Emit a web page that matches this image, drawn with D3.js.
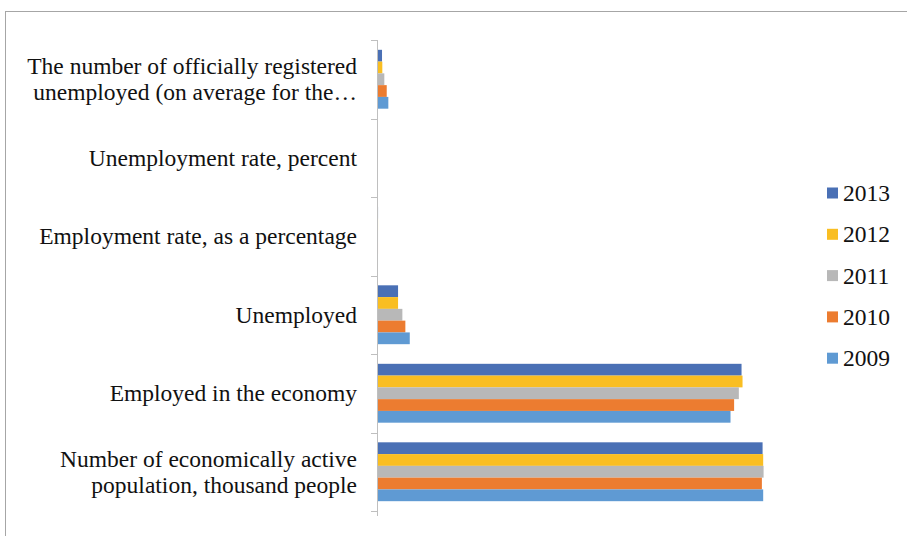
<!DOCTYPE html>
<html><head><meta charset="utf-8">
<script src="https://cdn.jsdelivr.net/npm/d3@7/dist/d3.min.js"></script>
<style>
html,body{margin:0;padding:0;background:#fff;}
svg{display:block;}
</style></head>
<body>
<svg id="chart" width="907" height="536"></svg>
<script>
// Categories in data order (first = bottom of chart)
const categories = [
  "Number of economically active population, thousand people",
  "Employed in the economy",
  "Unemployed",
  "Employment rate, as a percentage",
  "Unemployment rate, percent",
  "The number of officially registered unemployed (on average for the…"
];
const categoryLines = [
  ["Number of economically active", "population, thousand people"],
  ["Employed in the economy"],
  ["Unemployed"],
  ["Employment rate, as a percentage"],
  ["Unemployment rate, percent"],
  ["The number of officially registered", "unemployed (on average for the…"]
];
const seriesNames = ["2013", "2012", "2011", "2010", "2009"];
const seriesColors = ["#4a70b5", "#f9be22", "#b8b8b8", "#ec7c30", "#5f9ad3"];
const v2013 = [22120, 20913, 1208, 60.3, 7.2, 288];
const v2012 = [22155, 20970, 1208, 59.7, 7.5, 305];
const v2011 = [22178, 20758, 1455, 59.2, 7.9, 420];
const v2010 = [22080, 20487, 1627, 58.5, 8.1, 558];
const v2009 = [22155, 20280, 1880, 57.7, 8.8, 650];
const seriesValues = [v2013, v2012, v2011, v2010, v2009];

const FONT = '"Liberation Serif", "Times New Roman", serif';
const svg = d3.select("#chart");

// chart border
svg.append("rect").attr("x", 5.5).attr("y", 11.5).attr("width", 920).attr("height", 540)
  .attr("fill", "none").attr("stroke", "#a6a6a6").attr("stroke-width", 1);

const x0 = 377;
const x = d3.scaleLinear().domain([0, 25000]).range([x0, x0 + 1 + 25000 / 57.5]);
const y = d3.scaleBand().domain(categories.slice().reverse()).range([40, 511]).padding(0);
const bw = y.bandwidth();
const inner = d3.scaleBand().domain(seriesNames).range([bw * 0.125, bw * 0.875]).padding(0);

// bars
seriesNames.forEach((s, si) => {
  svg.append("g").selectAll("rect").data(categories).join("rect")
    .attr("x", x(0))
    .attr("y", c => y(c) + inner(s))
    .attr("width", (c, i) => Math.max(0, x(seriesValues[si][i]) - x(0)))
    .attr("height", inner.bandwidth())
    .attr("fill", seriesColors[si]);
});

// axis line + ticks (drawn over the bars)
const axisG = svg.append("g");
axisG.append("line").attr("x1", 377.5).attr("x2", 377.5).attr("y1", 40).attr("y2", 516)
  .attr("stroke", "#bfbfbf").attr("stroke-width", 1);
const tickYs = categories.map(c => y(c)).concat([y(categories[0]) + bw]);
axisG.selectAll("line.t").data(tickYs).join("line").attr("class", "t")
  .attr("x1", 371).attr("x2", 378)
  .attr("y1", d => Math.round(d) + 0.5).attr("y2", d => Math.round(d) + 0.5)
  .attr("stroke", "#bfbfbf").attr("stroke-width", 1);

// category labels
const fs = 23.5;
const lh = 26;
categories.forEach((c, i) => {
  const lines = categoryLines[i];
  const cy = y(c) + bw / 2;
  const t = svg.append("text").attr("text-anchor", "end").attr("font-size", fs)
    .attr("font-family", FONT).attr("fill", "#111");
  lines.forEach((ln, li) => {
    t.append("tspan").attr("x", 357)
      .attr("y", cy + (li - (lines.length - 1) / 2) * lh + 8)
      .text(ln);
  });
});

// legend
const leg = svg.append("g");
seriesNames.forEach((s, i) => {
  const ly = 193 + i * 41.3;
  leg.append("rect").attr("x", 827).attr("y", ly - 5.5).attr("width", 11).attr("height", 11)
    .attr("fill", seriesColors[i]);
  leg.append("text").attr("x", 843).attr("y", ly + 8).attr("font-size", fs)
    .attr("font-family", FONT).attr("fill", "#111").text(s);
});
</script>
</body></html>
